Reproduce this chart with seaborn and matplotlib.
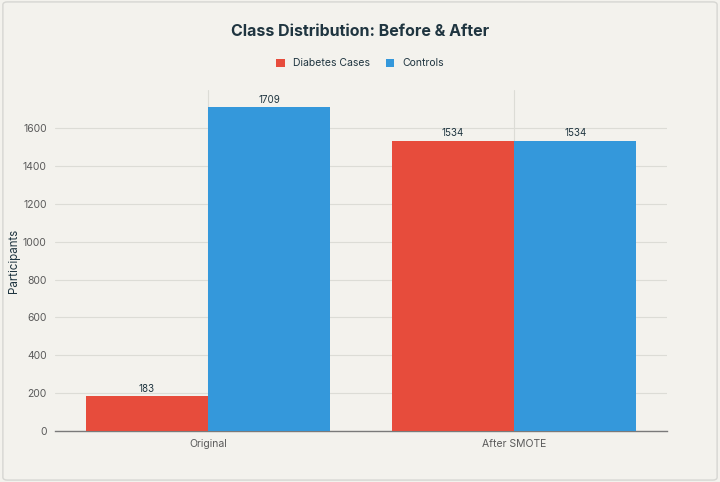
import pandas as pd
import seaborn as sns
import matplotlib.pyplot as plt
from matplotlib.patches import FancyBboxPatch

# --- Daten ---
stages = ["Original", "After SMOTE"]
classes = ["Diabetes Cases", "Controls"]
cases = [183, 1534]
controls = [1709, 1534]

df = pd.DataFrame({
    "Stage": stages * 2,
    "Class": [classes[0]] * 2 + [classes[1]] * 2,
    "Participants": cases + controls,
})

BG = "#f3f2ed"
TEXT = "#1f3540"
palette = {"Diabetes Cases": "#e74c3c", "Controls": "#3498db"}

sns.set_theme(style="whitegrid")
plt.rcParams['font.family'] = ['Inter', 'DejaVu Sans']

fig = plt.figure(figsize=(7.2, 4.82), dpi=100)
fig.patch.set_facecolor(BG)
ax = fig.add_axes([0.0764, 0.1058, 0.85, 0.7072])
ax.set_facecolor(BG)

# Rahmen um die Grafik
fig.patches.append(FancyBboxPatch((0.004, 0.004), 0.992, 0.992, boxstyle="round,pad=0,rounding_size=0.006",
                                  transform=fig.transFigure, facecolor="none", edgecolor="#d6d6d2",
                                  linewidth=1.0, zorder=0))

sns.barplot(data=df, x="Stage", y="Participants", hue="Class", palette=palette,
            order=stages, hue_order=classes, width=0.8, saturation=1, ax=ax, zorder=3,
            edgecolor="none", linewidth=0)

for c in ax.containers:
    ax.bar_label(c, fmt="%d", padding=2, fontsize=7, color=TEXT)

ax.set_xlim(-0.5, 1.5)
ax.set_ylim(0, 1800)
ax.set_yticks(range(0, 1601, 200))
ax.grid(True, axis="both", color="#dcdcd6", linewidth=0.8)
ax.set_axisbelow(True)
for s in ["top", "right", "left"]:
    ax.spines[s].set_visible(False)
ax.spines["bottom"].set_color("#7a7a7a")
ax.spines["bottom"].set_linewidth(1.0)
ax.tick_params(axis="both", length=0, labelsize=7.5, colors="#5a5a5a", pad=6)
ax.set_xlabel("")
ax.set_ylabel("Participants", fontsize=8.3, color=TEXT)
ax.yaxis.set_label_coords(-0.058, 0.5)

handles, labels = ax.get_legend_handles_labels()
ax.legend_.remove()
fig.legend(handles, labels, loc="center", bbox_to_anchor=(0.5, 0.869), ncol=2, frameon=False,
           fontsize=7.5, handlelength=0.8, handleheight=0.8, columnspacing=1.5, handletextpad=0.8,
           labelcolor=TEXT)

fig.suptitle("Class Distribution: Before & After", x=0.5, y=0.934, va="center", fontsize=11.5,
             fontweight="bold", color=TEXT)

plt.savefig("out.png", dpi=100, facecolor=BG)
plt.close()
